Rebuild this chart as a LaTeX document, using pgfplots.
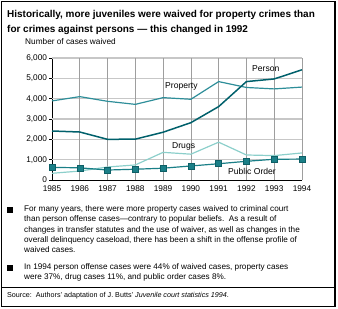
\documentclass[border=0pt]{standalone}
\usepackage{pgfplots}
\pgfplotsset{compat=1.18}
\usepackage{fontspec}
\setmainfont{Liberation Sans}
\definecolor{cPerson}{HTML}{00606B}
\definecolor{cProperty}{HTML}{2E8E99}
\definecolor{cDrugs}{HTML}{8CCFCB}
\definecolor{cPublic}{HTML}{1A7F87}
\definecolor{cPublicDark}{HTML}{0E5F66}
\begin{document}
\begin{tikzpicture}[x=1bp,y=1bp]
\useasboundingbox (0,0) rectangle (338,309);
\draw[line width=1.5bp] (1.5,2.5) rectangle (335,307.5);
% title
\node[anchor=west,inner sep=0pt,font=\fontsize{10}{12}\selectfont\bfseries] at (7,309-15) {Historically, more juveniles were waived for property crimes than};
\node[anchor=west,inner sep=0pt,font=\fontsize{10}{12}\selectfont\bfseries] at (7,309-30) {for crimes against persons --- this changed in 1992};
\node[anchor=west,inner sep=0pt,font=\fontsize{8.3}{9}\selectfont] at (25,309-42) {Number of cases waived};
\begin{axis}[
  at={(52bp,129bp)}, anchor=south west,
  scale only axis, width=250bp, height=122bp,
  xmin=1985, xmax=1994, ymin=0, ymax=6000,
  axis x line*=bottom, axis y line*=left,
  axis line style={line width=0.8bp},
  xtick={1985,...,1994}, ytick={0,1000,...,6000},
  x tick label style={/pgf/number format/1000 sep={}},
  y tick label style={/pgf/number format/1000 sep={,}},
  /pgf/number format/assume math mode=true,
  tick label style={font=\fontsize{8.3}{9}\selectfont},
  xticklabel style={yshift=1bp},
  yticklabel style={xshift=1.5bp},
  tick align=outside, major tick length=3bp,
  x tick style={draw=none},
  y tick style={line width=0.7bp,black},
  grid=none,
  clip=false,
]
% grid lines
\pgfplotsinvokeforeach{1000,2000,3000,4000,5000,6000}{
  \addplot[draw=black!22,line width=1.3bp,forget plot] coordinates {(1985,#1) (1994,#1)};
}
\pgfplotsinvokeforeach{1986,1987,1988,1989,1990,1991,1992,1993,1994}{
  \addplot[draw=black!38,line width=0.7bp,forget plot] coordinates {(#1,0) (#1,6000)};
}
% Drugs
\addplot[cDrugs,line width=1.2bp] coordinates {
 (1985,330) (1986,440) (1987,640) (1988,740) (1989,1360) (1990,1270) (1991,1860) (1992,1230) (1993,1200) (1994,1330)};
% Property
\addplot[cProperty,line width=1.2bp] coordinates {
 (1985,3890) (1986,4100) (1987,3870) (1988,3720) (1989,4050) (1990,3970) (1991,4840) (1992,4550) (1993,4480) (1994,4570)};
% Person
\addplot[cPerson,line width=1.5bp] coordinates {
 (1985,2410) (1986,2360) (1987,2000) (1988,2010) (1989,2350) (1990,2820) (1991,3610) (1992,4840) (1993,4970) (1994,5420)};
% Public Order
\addplot[cPublic,line width=1.2bp,mark=square*,mark size=3bp,
  mark options={fill=cPublic,draw=cPublicDark,line width=0.5bp}] coordinates {
 (1985,620) (1986,600) (1987,490) (1988,530) (1989,580) (1990,690) (1991,800) (1992,920) (1993,1020) (1994,1030)};
\end{axis}
% series labels
\node[anchor=west,inner sep=0pt,font=\fontsize{8.6}{9}\selectfont] at (165,309-86) {Property};
\node[anchor=west,inner sep=0pt,font=\fontsize{8.6}{9}\selectfont] at (252,309-69) {Person};
\node[anchor=west,inner sep=0pt,font=\fontsize{8.6}{9}\selectfont] at (172,309-146) {Drugs};
\node[anchor=west,inner sep=0pt,font=\fontsize{8.6}{9}\selectfont] at (228,309-171) {Public Order};
% bullets
\fill (7,309-213) rectangle ++(6,6);
\node[anchor=north west,inner sep=0pt,align=left,font=\fontsize{8.2}{10.5}\selectfont] at (24,309-205) {For many years, there were more property cases waived to criminal court\\
than person offense cases---contrary to popular beliefs.\ \ As a result of\\
changes in transfer statutes and the use of waiver, as well as changes in the\\
overall delinquency caseload, there has been a shift in the offense profile of\\
waived cases.};
\fill (7,309-271) rectangle ++(6,6);
\node[anchor=north west,inner sep=0pt,align=left,font=\fontsize{8.2}{10.5}\selectfont] at (24,309-263) {In 1994 person offense cases were 44\% of waived cases, property cases\\
were 37\%, drug cases 11\%, and public order cases 8\%.};
\draw[line width=0.6bp] (1.5,309-287) -- (335,309-287);
\node[anchor=west,inner sep=0pt,font=\fontsize{7.2}{9}\selectfont] at (7,309-296) {Source:\ \ Authors' adaptation of J. Butts' \textit{Juvenile court statistics 1994}.};
\end{tikzpicture}
\end{document}
